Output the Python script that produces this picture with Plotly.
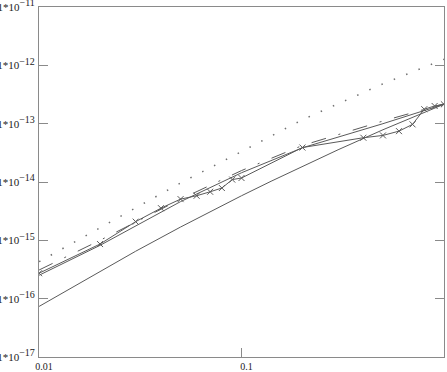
import plotly.graph_objects as go

# x grid for the smooth curves
x_curve = [0.01, 0.02, 0.05, 0.1, 0.2, 0.5, 1.0]
dotted_y = [4.30e-16, 1.64e-15, 9.64e-15, 3.32e-14, 1.17e-13, 4.83e-13, 1.27e-12]
dashdot_y = [3.10e-16, 1.00e-15, 5.07e-15, 1.57e-14, 4.23e-14, 1.11e-13, 2.19e-13]
smooth_y = [2.52e-16, 8.20e-16, 4.61e-15, 1.44e-14, 3.86e-14, 1.00e-13, 2.15e-13]

x_bottom = [0.01, 0.02, 0.03, 0.05, 0.07, 0.1, 0.14, 0.2, 0.3, 0.5, 0.7, 1.0]
bottom_y = [7.36e-17, 2.96e-16, 6.50e-16, 1.69e-15, 3.10e-15, 5.81e-15, 1.03e-14,
            1.86e-14, 3.57e-14, 7.87e-14, 1.29e-13, 2.15e-13]

# measured series with x markers
x_meas = [0.01, 0.02, 0.03, 0.04, 0.05, 0.06, 0.07, 0.08, 0.09, 0.1,
          0.2, 0.4, 0.5, 0.6, 0.7, 0.8, 0.9, 1.0]
meas_y = [2.73e-16, 8.63e-16, 2.09e-15, 3.56e-15, 5.09e-15, 5.81e-15, 6.8e-15,
          7.88e-15, 1.10e-14, 1.17e-14, 3.90e-14, 5.74e-14, 6.29e-14, 7.45e-14,
          9.73e-14, 1.77e-13, 2.01e-13, 2.15e-13]

x_ticks = [0.01, 0.1, 1]
x_ticktext = ["0.01", "0.1", "1"]
y_exps = [-17, -16, -15, -14, -13, -12, -11]
y_ticks = [10.0 ** e for e in y_exps]
y_ticktext = ["1*10<sup><span style='font-size:10px'>\u2212%d</span></sup>" % (-e) for e in y_exps]

line_col = "#5a5a5a"
axis_col = "#8a8a8a"

fig = go.Figure()
fig.add_trace(go.Scatter(x=x_curve, y=dotted_y, mode="lines",
                         line=dict(color="#707070", width=1.5, dash="1.5px,11.8px")))
fig.add_trace(go.Scatter(x=x_curve, y=dashdot_y, mode="lines",
                         line=dict(color=line_col, width=1, dash="15px,13px,2px,13px")))
fig.add_trace(go.Scatter(x=x_curve, y=smooth_y, mode="lines",
                         line=dict(color=line_col, width=1)))
fig.add_trace(go.Scatter(x=x_meas, y=meas_y, mode="lines+markers",
                         line=dict(color=line_col, width=1),
                         marker=dict(symbol="x-thin-open", size=6,
                                     line=dict(color=line_col, width=1))))
fig.add_trace(go.Scatter(x=x_bottom, y=bottom_y, mode="lines",
                         line=dict(color=line_col, width=1)))

fig.update_layout(
    width=447, height=372,
    margin=dict(l=39, r=3, t=7, b=15, autoexpand=False),
    paper_bgcolor="white", plot_bgcolor="white",
    showlegend=False,
    font=dict(family="Liberation Serif", color="#222222"),
)
fig.update_xaxes(type="log", range=[-2.0005, 0.0005], tickvals=x_ticks, ticktext=x_ticktext,
                 automargin=False, ticklabeloverflow="allow",
                 showgrid=False, zeroline=False, showline=True, linecolor=axis_col,
                 linewidth=1, mirror=True, ticks="inside", ticklen=9, tickcolor=axis_col,
                 tickfont=dict(size=10, family="Liberation Serif", color="#222222"),
                 ticklabelshift=5, ticklabelstandoff=0)
fig.update_yaxes(type="log", range=[-17.0005, -10.9995], tickvals=y_ticks, ticktext=y_ticktext,
                 automargin=False, ticklabeloverflow="allow",
                 showgrid=False, zeroline=False, showline=True, linecolor=axis_col,
                 linewidth=1, mirror="ticks", ticks="inside", ticklen=9, tickcolor=axis_col,
                 tickfont=dict(size=11, family="Liberation Serif", color="#222222"),
                 ticklabelstandoff=1)

fig.write_html("out.html", config={"displayModeBar": False},
               post_script="document.body.style.margin='0px';")
